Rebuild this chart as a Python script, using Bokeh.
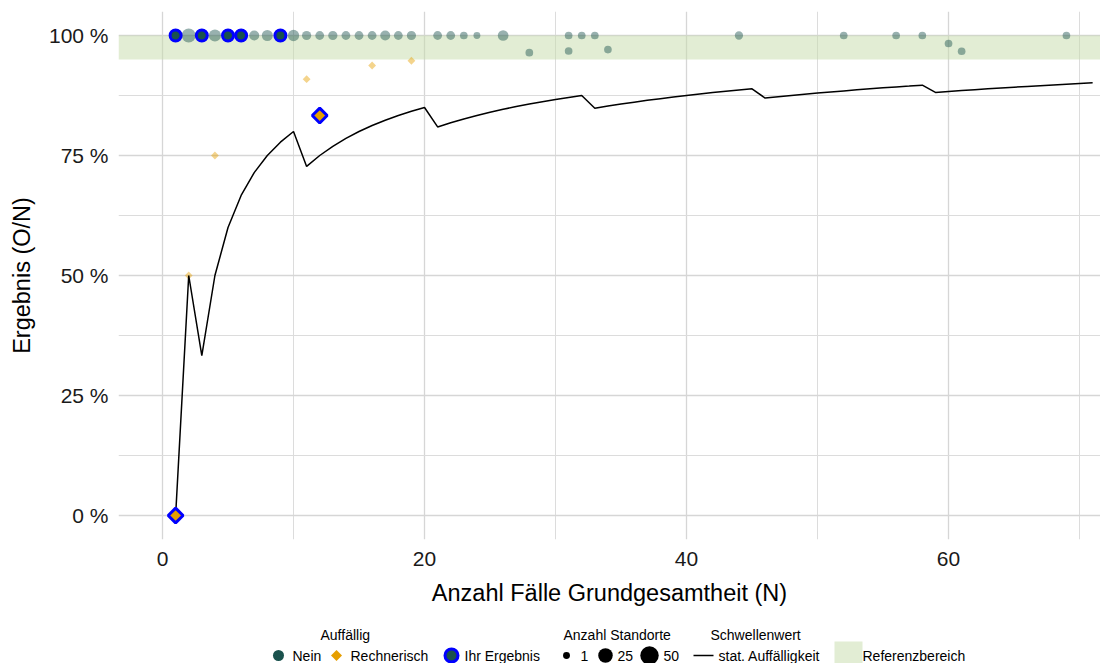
import numpy as np
from bokeh.plotting import figure
from bokeh.models import (Range1d, FixedTicker, CustomJSTickFormatter, BoxAnnotation)
from bokeh.layouts import column
from bokeh.embed import file_html
from bokeh.resources import INLINE
from bokeh.core.properties import value

# ---------------- data ----------------
schwelle_n = list(range(1, 72))
schwelle_wert = [
    0.0, 0.5, 0.3333, 0.5, 0.6, 0.6667, 0.7143, 0.75, 0.7778, 0.8,
    0.7273, 0.75, 0.7692, 0.7857, 0.8, 0.8125, 0.8235, 0.8333, 0.8421, 0.85,
    0.8095, 0.8182, 0.8261, 0.8333, 0.84, 0.8462, 0.8519, 0.8571, 0.8621, 0.8667,
    0.8710, 0.875, 0.8485, 0.8529, 0.8571, 0.8611, 0.8649, 0.8684, 0.8718, 0.875,
    0.8780, 0.8810, 0.8837, 0.8864, 0.8889, 0.8696, 0.8723, 0.875, 0.8776, 0.88,
    0.8824, 0.8846, 0.8868, 0.8889, 0.8909, 0.8929, 0.8947, 0.8966, 0.8814, 0.8833,
    0.8852, 0.8871, 0.8889, 0.8906, 0.8923, 0.8939, 0.8955, 0.8971, 0.8986, 0.9,
    0.9014]

# all sites, not conspicuous ("Nein")
nein_n = [1, 2, 3, 4, 5, 6, 7, 8, 9, 10, 11, 12, 13, 14, 15, 16, 17, 18, 19,
          21, 22, 23, 24, 26, 28, 31, 31, 32, 33, 34, 44, 52, 56, 58, 60, 61, 69]
nein_ergebnis = [1.0] * 24 + [0.9643, 1.0, 0.9677, 1.0, 1.0, 0.9706,
                              1.0, 1.0, 1.0, 1.0, 0.9833, 0.9672, 1.0]
nein_anzahl = [8, 22, 8, 14, 8, 8, 7, 10, 8, 11, 5, 4, 5, 4, 4, 4, 7, 4, 5,
               4, 4, 2, 1, 9, 2, 2, 2, 2, 2, 2, 3, 2, 2, 2, 2, 2, 2]

# all sites, computationally conspicuous ("Rechnerisch")
rech_n = [1, 2, 4, 11, 12, 16, 19]
rech_ergebnis = [0.0, 0.5, 0.75, 0.9091, 0.8333, 0.9375, 0.9474]
rech_anzahl = [1, 1, 1, 1, 1, 1, 1]

# your own results
ihr_nein_n = [1, 3, 5, 6, 9]
ihr_nein_ergebnis = [1.0, 1.0, 1.0, 1.0, 1.0]
ihr_rech_n = [1, 12]
ihr_rech_ergebnis = [0.0, 0.8333]

ref_unten = 0.95
ref_oben = 1.0

y_ticks = [0, 0.25, 0.5, 0.75, 1.0]
y_minor = [0.125, 0.375, 0.625, 0.875]
x_ticks = [0, 20, 40, 60]
x_minor = [10, 30, 50, 70]

legend_sizes = [1, 25, 50]

# ---------------- style ----------------
FONT = "Liberation Sans"
TEAL = "#1a524d"
ORANGE = "#E69F00"
BLUE = "#0000FF"
BAND = "#c5dba9"

W = 1100
LEFT = 118
TOP = 11
FRAME_H = 528
BOTTOM = 76
MAIN_H = TOP + FRAME_H + BOTTOM
LEG_H = 663 - MAIN_H


def size_of(n):
    return 5 + 1.9 * np.sqrt(np.asarray(n, dtype=float))


p = figure(width=W, height=MAIN_H, output_backend="svg", toolbar_location=None,
           x_range=Range1d(-3.36, 71.6), y_range=Range1d(-0.05, 1.05),
           min_border_left=LEFT, min_border_right=0, min_border_top=TOP,
           min_border_bottom=BOTTOM)
p.outline_line_color = None
p.background_fill_color = "white"

# grid
for g in (p.xgrid, p.ygrid):
    g.grid_line_color = "#d6d6d6"
    g.grid_line_width = 1.3
    g.minor_grid_line_color = "#dcdcdc"
    g.minor_grid_line_width = 1.0
p.xaxis.ticker = FixedTicker(ticks=x_ticks, minor_ticks=x_minor)
p.yaxis.ticker = FixedTicker(ticks=y_ticks, minor_ticks=y_minor)
p.yaxis.formatter = CustomJSTickFormatter(code="return Math.round(tick*100) + ' %'")

for ax in (p.xaxis, p.yaxis):
    ax.axis_line_color = None
    ax.major_tick_line_color = None
    ax.minor_tick_line_color = None
    ax.major_tick_out = 0
    ax.major_tick_in = 0
    ax.minor_tick_out = 0
    ax.minor_tick_in = 0
    ax.major_label_text_font = FONT
    ax.major_label_text_font_size = "21px"
    ax.major_label_text_color = "#1a1a1a"
    ax.axis_label_text_font = FONT
    ax.axis_label_text_font_size = "23.5px"
    ax.axis_label_text_font_style = "normal"
    ax.axis_label_text_color = "black"

p.xaxis.axis_label = "Anzahl Fälle Grundgesamtheit (N)"
p.yaxis.axis_label = "Ergebnis (O/N)"
p.xaxis.major_label_standoff = 12
p.xaxis.axis_label_standoff = 11
p.yaxis.major_label_standoff = 10
p.yaxis.axis_label_standoff = 11

# reference band
band = BoxAnnotation(bottom=ref_unten, top=ref_oben, fill_color=BAND,
                     fill_alpha=0.5, line_color=None, level="underlay")
p.add_layout(band)

# all sites
p.scatter(nein_n, nein_ergebnis, size=size_of(nein_anzahl), marker="circle",
          fill_color=TEAL, fill_alpha=0.45, line_color=None)
p.scatter(rech_n, rech_ergebnis, size=size_of(rech_anzahl) * 0.8, marker="square",
          angle=np.pi / 4, fill_color=ORANGE, fill_alpha=0.45, line_color=None)

# threshold line
p.line(schwelle_n, schwelle_wert, line_color="black", line_width=1.5)

# own results
p.scatter(ihr_nein_n, ihr_nein_ergebnis, size=11, marker="circle",
          fill_color=TEAL, line_color=BLUE, line_width=3)
p.scatter(ihr_rech_n, ihr_rech_ergebnis, size=10.5, marker="square", angle=np.pi / 4,
          fill_color=ORANGE, line_color=BLUE, line_width=3)

# ---------------- legend (drawn in page pixel coordinates) ----------------
lg = figure(width=W, height=LEG_H, output_backend="svg", toolbar_location=None,
            x_range=Range1d(LEFT, W), y_range=Range1d(663, MAIN_H),
            min_border_left=LEFT, min_border_right=0,
            min_border_top=0, min_border_bottom=0)
lg.axis.visible = False
lg.grid.visible = False
lg.outline_line_color = None

ty = 634
iy = 655
lg.text(x=[320, 563, 710], y=[ty, ty, ty],
        text=["Auffällig", "Anzahl Standorte", "Schwellenwert"],
        text_font=value(FONT), text_font_size=value("14px"),
        text_baseline="middle", text_align="left", text_color="black")

lg.rect(x=[848], y=[652], width=28, height=22, fill_color="#e2edd4", line_color=None)

lg.scatter([278], [iy], size=11, marker="circle", fill_color=TEAL, line_color=None)
lg.scatter([336], [iy], size=7.8, marker="square", angle=np.pi / 4,
           fill_color=ORANGE, line_color=None)
lg.scatter([451], [iy], size=13, marker="circle", fill_color=TEAL,
           line_color=BLUE, line_width=3)
lg.scatter([566, 605, 649], [iy] * 3, size=size_of(legend_sizes), marker="circle",
           fill_color="black", line_color=None)
lg.segment(x0=[693], y0=[iy], x1=[713], y1=[iy], line_color="black", line_width=1.5)

lg.text(x=[292, 350, 464, 580, 617, 663, 718, 862], y=[iy] * 8,
        text=["Nein", "Rechnerisch", "Ihr Ergebnis"] + [str(s) for s in legend_sizes]
             + ["stat. Auffälligkeit", "Referenzbereich"],
        text_font=value(FONT), text_font_size=value("14px"),
        text_baseline="middle", text_align="left", text_color="black")

layout = column(p, lg, spacing=0)
open("out.html", "w").write(file_html(layout, INLINE))
